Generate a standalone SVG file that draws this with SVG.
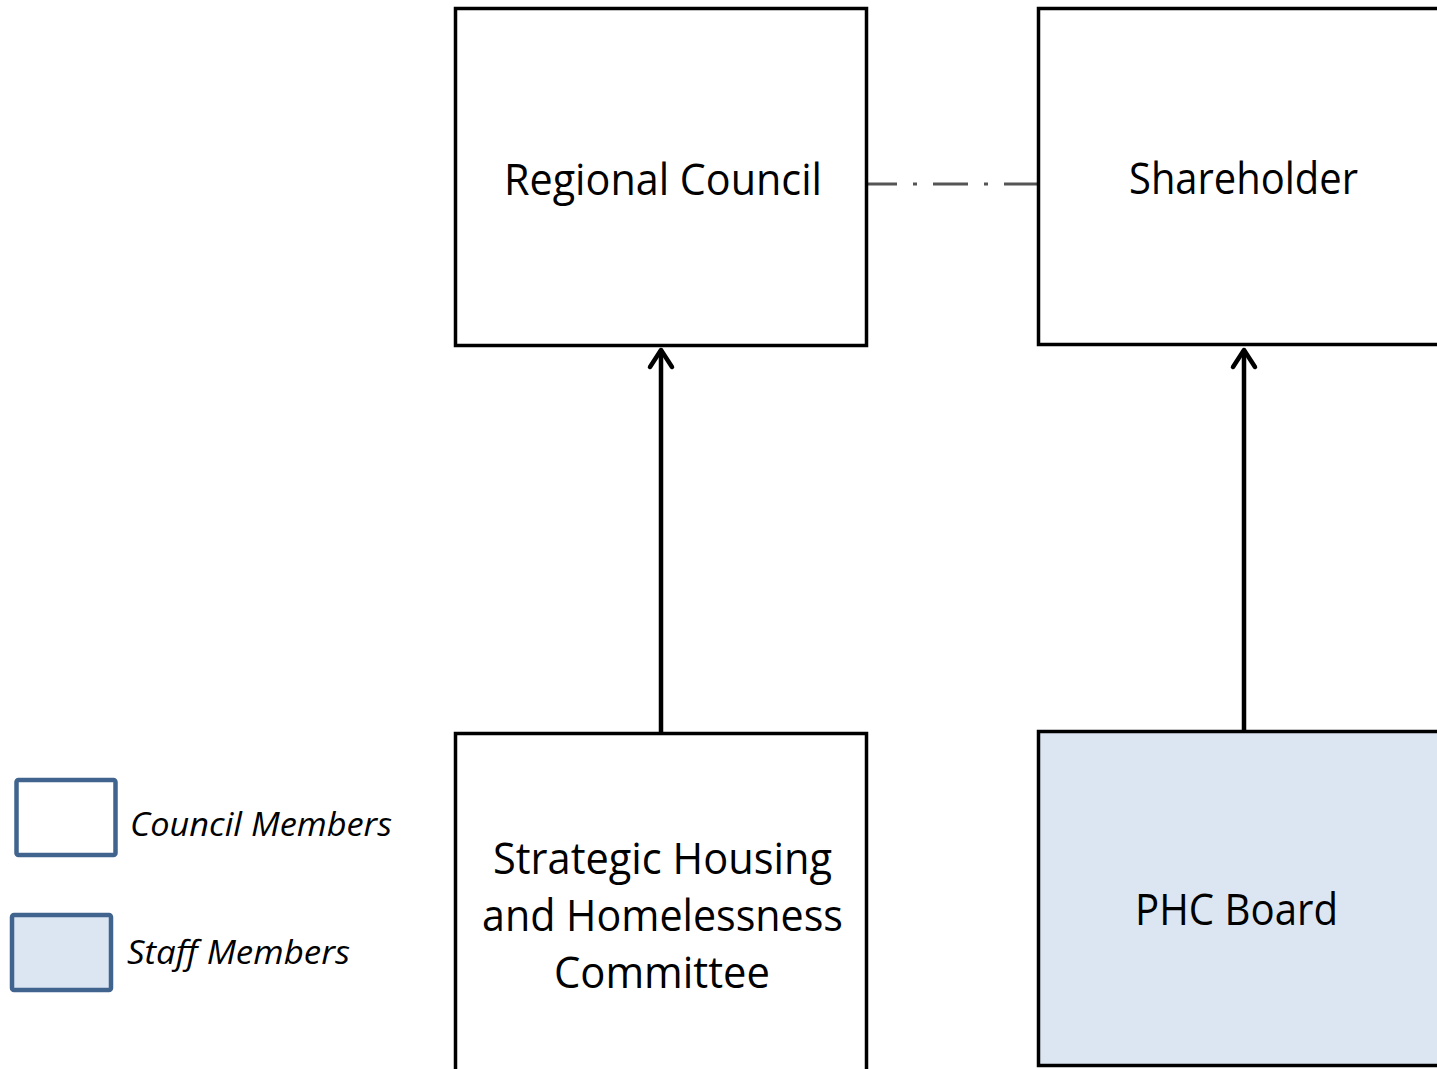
<svg xmlns="http://www.w3.org/2000/svg" width="1437" height="1069" viewBox="0 0 1437 1069">
<style>
.box{stroke:#000;stroke-width:3.5;fill:#fff}
.lbl{font-family:"Open Sans","Noto Sans","Liberation Sans",sans-serif;font-size:44px;fill:#000}
.leg{font-family:"Open Sans","Noto Sans","Liberation Sans",sans-serif;font-size:33px;font-style:italic;fill:#000}
.legbox{stroke:#41648f;stroke-width:4.5;fill:#fff}
.staff{fill:#dce6f2}
.conn{stroke:#000;stroke-width:4.5;fill:none}
.head{stroke:#000;stroke-width:4.5;fill:none;stroke-linecap:round;stroke-linejoin:round}
</style>
<rect width="1437" height="1069" fill="#fff"/>
<g id="connectors">
<line class="conn" x1="661" y1="733" x2="661" y2="350"/>
<path class="head" d="M650,367 L661,350 L672,367"/>
<line class="conn" x1="1244" y1="731" x2="1244" y2="350"/>
<path class="head" d="M1233,367 L1244,350 L1255,367"/>
<line x1="862" y1="184" x2="1040" y2="184" stroke="#555" stroke-width="3" stroke-dasharray="35 16 4 16"/>
</g>
<g id="regional-council">
<rect class="box" x="455.5" y="8.5" width="411" height="337"/>
<text class="lbl" x="504" y="195" textLength="318" lengthAdjust="spacingAndGlyphs">Regional Council</text>
</g>
<g id="shareholder">
<rect class="box" x="1038.5" y="8.5" width="420" height="336"/>
<text class="lbl" x="1129" y="194" textLength="229" lengthAdjust="spacingAndGlyphs">Shareholder</text>
</g>
<g id="shh-committee">
<rect class="box" x="455.5" y="733.5" width="411" height="345"/>
<text class="lbl" x="493" y="874" textLength="339" lengthAdjust="spacingAndGlyphs">Strategic Housing</text>
<text class="lbl" x="482" y="931" textLength="361" lengthAdjust="spacingAndGlyphs">and Homelessness</text>
<text class="lbl" x="554" y="988" textLength="216" lengthAdjust="spacingAndGlyphs">Committee</text>
</g>
<g id="phc-board">
<rect class="box staff" x="1038.5" y="731.5" width="420" height="334"/>
<text class="lbl" x="1135" y="925" textLength="203" lengthAdjust="spacingAndGlyphs">PHC Board</text>
</g>
<g id="legend-council">
<rect class="legbox" x="16.5" y="780" width="99" height="75" rx="2"/>
<text class="leg" x="130" y="836" textLength="262" lengthAdjust="spacingAndGlyphs">Council Members</text>
</g>
<g id="legend-staff">
<rect class="legbox staff" x="12" y="915" width="99" height="75" rx="2"/>
<text class="leg" x="127" y="964" textLength="223" lengthAdjust="spacingAndGlyphs">Staff Members</text>
</g>
</svg>
